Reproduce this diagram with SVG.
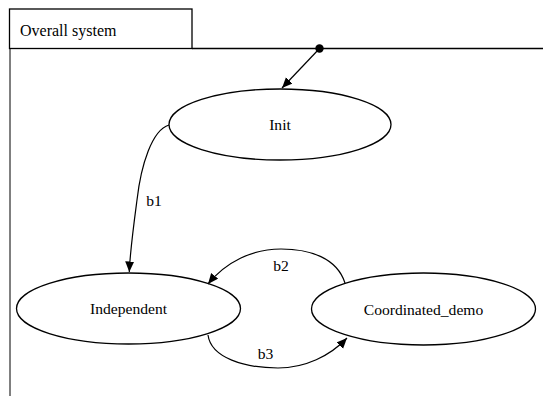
<svg xmlns="http://www.w3.org/2000/svg" width="543" height="396" viewBox="0 0 543 396">
  <style>
    .frame { fill: none; stroke: #000; stroke-width: 1.3; }
    .state { fill: #fff; stroke: #000; stroke-width: 1.3; }
    .label { font-family: 'Liberation Serif', 'DejaVu Serif', serif; font-size: 15.6px; fill: #000; }
    .edge { fill: none; stroke: #000; stroke-width: 1.2; marker-end: url(#arrow); }
  </style>
  <defs>
    <marker id="arrow" markerUnits="userSpaceOnUse" markerWidth="12" markerHeight="10" refX="10.5" refY="4.5" orient="auto">
      <path d="M0,0 L10.5,4.5 L0,9 z" fill="#000"/>
    </marker>
  </defs>
  <rect width="543" height="396" fill="#fff"/>

  <!-- frame: tab with title, top rule and left border -->
  <g id="frame">
    <rect class="frame" x="9.5" y="9" width="182.5" height="39.5"/>
    <line x1="192" y1="48.5" x2="543" y2="48.5" stroke="#000" stroke-width="1.3"/>
    <line x1="10" y1="48.5" x2="10" y2="396" stroke="#000" stroke-width="1"/>
    <text class="label" x="20" y="35.5" style="font-size:16px">Overall system</text>
  </g>

  <g id="initial">
    <circle cx="319.5" cy="48.5" r="4.2" fill="#000"/>
  </g>

  <g id="Init">
    <ellipse class="state" cx="280" cy="124.5" rx="111" ry="35.5"/>
    <text class="label" x="280" y="130" text-anchor="middle">Init</text>
  </g>

  <g id="Independent">
    <ellipse class="state" cx="128.5" cy="308.5" rx="112" ry="35.5"/>
    <text class="label" x="128.5" y="314" text-anchor="middle">Independent</text>
  </g>

  <g id="Coordinated_demo">
    <ellipse class="state" cx="423.5" cy="309" rx="112" ry="36"/>
    <text class="label" x="423.5" y="314.5" text-anchor="middle">Coordinated_demo</text>
  </g>

  <g id="connectors">
    <path class="edge" d="M319.5,48.5 L282,88"/>
    <path class="edge" d="M169,125 C152,130 141,165 137,200 C133,230 130,252 129.3,272"/>
    <text class="label" x="154" y="206" text-anchor="middle">b1</text>
    <path class="edge" d="M345,283 C337,258 310,249 281,249 C252,249 226,262 208,284"/>
    <text class="label" x="281" y="270.5" text-anchor="middle">b2</text>
    <path class="edge" d="M208,335 C211,358 245,368 278,368 C305,368 330,356 347,338"/>
    <text class="label" x="265.5" y="358.5" text-anchor="middle">b3</text>
  </g>
</svg>
